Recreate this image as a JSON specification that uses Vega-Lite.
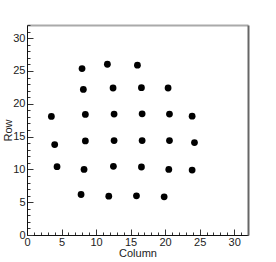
{
  "$schema": "https://vega.github.io/schema/vega-lite/v6.json",
  "width": 221,
  "height": 210,
  "autosize": "none",
  "padding": {"left": 27, "top": 25, "right": 28, "bottom": 27},
  "background": "white",
  "config": {
    "view": {"stroke": null},
    "font": "Liberation Sans",
    "axis": {"labelFont": "Liberation Sans", "titleFont": "Liberation Sans", "labelFontSize": 11, "titleFontSize": 11, "titleFontWeight": "normal", "labelColor": "#222", "titleColor": "#222", "grid": false}
  },
  "data": {"values": [
    {"Column": 7.97, "Row": 25.36},
    {"Column": 11.64, "Row": 26.02},
    {"Column": 15.99, "Row": 25.87},
    {"Column": 8.16, "Row": 22.19},
    {"Column": 12.46, "Row": 22.40},
    {"Column": 16.57, "Row": 22.45},
    {"Column": 20.43, "Row": 22.40},
    {"Column": 3.53, "Row": 18.06},
    {"Column": 8.45, "Row": 18.37},
    {"Column": 12.61, "Row": 18.42},
    {"Column": 16.67, "Row": 18.47},
    {"Column": 20.63, "Row": 18.42},
    {"Column": 23.91, "Row": 18.11},
    {"Column": 4.01, "Row": 13.78},
    {"Column": 8.45, "Row": 14.34},
    {"Column": 12.61, "Row": 14.39},
    {"Column": 16.67, "Row": 14.39},
    {"Column": 20.63, "Row": 14.39},
    {"Column": 24.25, "Row": 14.08},
    {"Column": 4.35, "Row": 10.41},
    {"Column": 8.26, "Row": 10.0},
    {"Column": 12.51, "Row": 10.46},
    {"Column": 16.57, "Row": 10.36},
    {"Column": 20.53, "Row": 10.0},
    {"Column": 23.91, "Row": 9.90},
    {"Column": 7.83, "Row": 6.17},
    {"Column": 11.84, "Row": 5.92},
    {"Column": 15.85, "Row": 5.97},
    {"Column": 19.86, "Row": 5.82}
  ]},
  "layer": [
    {
      "mark": {"type": "point", "filled": true, "color": "black", "opacity": 1, "size": 46},
      "encoding": {
        "x": {"field": "Column", "type": "quantitative", "scale": {"domain": [0, 32], "nice": false, "zero": false},
          "axis": {"orient": "bottom", "title": "Column", "values": [0,1,2,3,4,5,6,7,8,9,10,11,12,13,14,15,16,17,18,19,20,21,22,23,24,25,26,27,28,29,30,31,32],
            "labelExpr": "datum.value % 5 === 0 ? datum.label : ''",
            "tickSize": {"condition": {"test": "datum.value % 5 === 0", "value": -6}, "value": -3},
            "tickColor": "#333", "domainColor": "#111", "labelPadding": 7, "titlePadding": -3, "labelFlush": false, "labelOverlap": false}},
        "y": {"field": "Row", "type": "quantitative", "scale": {"domain": [0, 32], "nice": false, "zero": false},
          "axis": {"orient": "left", "title": "Row", "values": [0,1,2,3,4,5,6,7,8,9,10,11,12,13,14,15,16,17,18,19,20,21,22,23,24,25,26,27,28,29,30,31,32],
            "labelExpr": "datum.value % 5 === 0 ? datum.label : ''",
            "tickSize": {"condition": {"test": "datum.value % 5 === 0", "value": -6}, "value": -3},
            "tickColor": "#333", "domainColor": "#111", "labelPadding": 8, "titlePadding": -1, "labelFlush": false, "labelOverlap": false}}
      }
    },
    {
      "mark": {"type": "point", "opacity": 0},
      "encoding": {
        "x": {"field": "Column", "type": "quantitative", "scale": {"domain": [0, 32], "nice": false, "zero": false},
          "axis": {"orient": "top", "title": null, "labels": false, "ticks": false, "domainColor": "#aaa", "domainWidth": 2}},
        "y": {"field": "Row", "type": "quantitative", "scale": {"domain": [0, 32], "nice": false, "zero": false},
          "axis": {"orient": "right", "title": null, "labels": false, "ticks": false, "domainColor": "#666", "domainWidth": 2}}
      }
    }
  ],
  "resolve": {"scale": {"x": "independent", "y": "independent"}, "axis": {"x": "independent", "y": "independent"}}
}
